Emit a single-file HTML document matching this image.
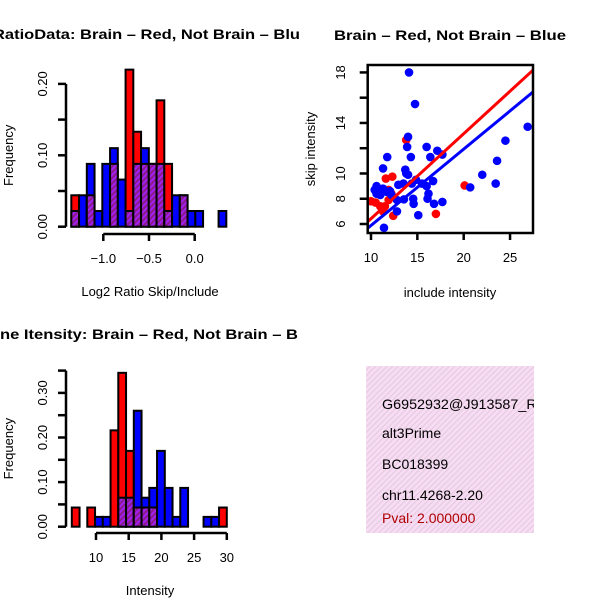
<!DOCTYPE html>
<html><head><meta charset="utf-8"><style>
html,body{margin:0;padding:0;background:#fff;}
svg{display:block;font-family:"Liberation Sans",sans-serif;}
.t{font-size:13px;}
.b{font-size:14px;}
.ttl{font-size:14px;font-weight:bold;}
</style></head><body>
<svg id="s" width="600" height="600" viewBox="0 0 600 600">
<defs>
<pattern id="hatch" width="4" height="4" patternUnits="userSpaceOnUse" patternTransform="rotate(45)">
<rect width="4" height="4" fill="#a020f0"/><rect width="2" height="4" fill="#8b1a8b"/>
</pattern>
<pattern id="pink" width="4" height="4" patternUnits="userSpaceOnUse" patternTransform="rotate(45)">
<rect width="4" height="4" fill="#f8dcf4"/><rect width="1.2" height="4" fill="#e4cce0"/>
</pattern>
<clipPath id="c1"><rect x="0" y="0" width="300" height="300"/></clipPath>
<clipPath id="c3"><rect x="0" y="300" width="300" height="300"/></clipPath>
<clipPath id="c2"><rect x="368" y="65" width="165" height="168"/></clipPath>
<clipPath id="cb"><rect x="366" y="366" width="168" height="167"/></clipPath>
</defs>
<g id="p1" clip-path="url(#c1)"></g>
<g id="p3" clip-path="url(#c3)"></g>
<g id="p2"></g>
<g clip-path="url(#cb)">
<rect x="366" y="366" width="168" height="167" fill="url(#pink)"/>
<text class="b" x="382" y="409" textLength="165" lengthAdjust="spacingAndGlyphs">G6952932@J913587_RC</text>
<text class="b" x="382" y="438">alt3Prime</text>
<text class="b" x="382" y="469">BC018399</text>
<text class="b" x="382" y="500">chr11.4268-2.20</text>
<text class="b" x="382" y="523" fill="#b00000">Pval: 2.000000</text>
</g>
</svg>
<script>
// ---- Ratio histogram data ----
const ratioStart = -1.35, ratioBin = 0.0848;
const ratioRed  = [0.044,0,0.044,0,0,0.088,0,0.22,0.133,0.088,0.088,0.177,0.088,0,0.044,0,0,0,0,0];
const ratioBlue = [0.022,0.044,0.088,0.022,0.088,0.11,0.066,0.022,0.088,0.11,0.088,0.088,0.022,0.044,0.044,0.022,0.022,0,0,0.022];
const ratioXTicks = [-1.0,-0.5,0.0];
const ratioXLabels = ["\u22121.0","\u22120.5","0.0"];
const ratioYTicks = [0,0.05,0.10,0.15,0.20];
const ratioYLabels = ["0.00","","0.10","","0.20"];
// ---- Intensity histogram data ----
const intStart = 6.3, intBin = 1.185;
const intRed  = [0.043,0,0.043,0,0,0.216,0.345,0.17,0.043,0.043,0.043,0,0,0,0,0,0,0,0,0.043];
const intBlue = [0,0,0,0.022,0.022,0,0.065,0.065,0.26,0.065,0.087,0.17,0.087,0.022,0.087,0,0,0.022,0.022,0];
const intXTicks = [10,15,20,25,30];
const intXLabels = ["10","15","20","25","30"];
const intYTicks = [0,0.05,0.10,0.15,0.20,0.25,0.30,0.35];
const intYLabels = ["0.00","","0.10","","0.20","","0.30",""];
// ---- Scatter data ----
const redX = [13.8,11.6,12.3,10.0,10.5,11.5,12.4,11.9,11.3,20.1,17.0,12.2,11.0,11.9];
const redY = [12.65,9.6,9.75,7.8,7.7,7.4,6.65,7.9,7.0,9.05,6.8,8.4,7.4,8.7];
const blueX = [14.1,14.75,14.0,13.9,16.0,17.15,17.7,16.4,14.3,11.75,11.3,13.7,14.0,14.85,16.7,15.5,16.0,16.2,16.1,10.6,10.4,11.0,12.05,12.95,13.5,14.55,14.6,16.8,17.7,13.55,12.8,15.1,11.4,12.8,12.2,11.7,20.7,22.0,23.45,23.6,24.5,26.9,14.4,13.8,10.6,11.3];
const blueY = [18.0,15.5,12.9,12.1,12.1,11.8,11.5,11.3,11.3,11.3,10.4,10.3,9.9,9.5,9.4,9.2,9.0,8.4,8.0,9.0,8.7,8.3,8.6,9.1,9.2,8.0,7.6,7.6,7.75,7.95,7.0,6.7,5.7,7.9,8.3,8.55,8.9,9.9,9.2,11.0,12.6,13.7,9.2,10.0,8.4,8.8];
const redFit = [-0.31,0.673];   // intercept, slope
const blueFit = [-0.17,0.605];
const scXTicks = [10,15,20,25];
const scYTicks = [6,8,10,12,14,16,18];
const scYLabels = ["6","8","10","","14","","18"];

const NS="http://www.w3.org/2000/svg";
function mk(parent,tag,attrs,txt){const e=document.createElementNS(NS,tag);for(const k in attrs)e.setAttribute(k,attrs[k]);if(txt!==undefined)e.textContent=txt;parent.appendChild(e);return e;}

function hist(gid,start,bin,red,blue,xs,ys,xT,xL,yT,yL,yAxisX,base,xAxY,title,titleX,titleLen,titleY,xlab){
  const g=document.getElementById(gid);
  const X=v=>xs(v), Y=v=>ys(v);
  const tt=mk(g,'text',{class:'ttl',x:titleX,y:titleY,textLength:titleLen,lengthAdjust:'spacingAndGlyphs'},title);
  
  
  for(let i=0;i<red.length;i++){
    const x0=X(start+i*bin), x1=X(start+(i+1)*bin);
    const r=red[i], b=blue[i];
    if(r===0&&b===0) continue;
    const hi=Math.max(r,b), lo=Math.min(r,b);
    const top=mk(g,'rect',{x:x0,y:Y(hi),width:x1-x0,height:Y(0)-Y(hi),fill:r>=b?'#ff0000':'#0000ff',stroke:'#000','stroke-width':2});
    
    
    if(lo>0){
      const ov=mk(g,'rect',{x:x0,y:Y(lo),width:x1-x0,height:Y(0)-Y(lo),fill:'url(#hatch)',stroke:'#000','stroke-width':2});
      
      
    }
  }
  const xa=mk(g,'g',{});
  
  
  mk(xa,'line',{x1:X(xT[0]),x2:X(xT[xT.length-1]),y1:xAxY,y2:xAxY,stroke:'#000','stroke-width':2.5});
  xT.forEach((v,i)=>{mk(xa,'line',{x1:X(v),x2:X(v),y1:xAxY,y2:xAxY+7,stroke:'#000','stroke-width':2.5});
    mk(xa,'text',{class:'t',x:X(v),y:xAxY+29,'text-anchor':'middle'},xL[i]);});
  const xl=mk(g,'text',{class:'t',x:150,y:xAxY+62,'text-anchor':'middle'},xlab);
  
  
  const ya=mk(g,'g',{});
  
  
  mk(ya,'line',{x1:yAxisX,x2:yAxisX,y1:Y(yT[0]),y2:Y(yT[yT.length-1]),stroke:'#000','stroke-width':2.5});
  yT.forEach((v,i)=>{mk(ya,'line',{x1:yAxisX-8,x2:yAxisX,y1:Y(v),y2:Y(v),stroke:'#000','stroke-width':2.5});
    if(yL[i]) mk(ya,'text',{class:'t',x:0,y:0,'text-anchor':'middle',transform:`translate(${yAxisX-19},${Y(v)}) rotate(-90)`},yL[i]);});
  const yl=mk(g,'text',{class:'t','text-anchor':'middle',transform:`translate(13,${(Y(yT[0])+Y(yT[yT.length-1]))/2}) rotate(-90)`},'Frequency');
  
  
}

hist('p1',ratioStart,ratioBin,ratioRed,ratioBlue,
  v=>194.7+v*91.4, v=>226.7-v*714,
  ratioXTicks,ratioXLabels,ratioYTicks,ratioYLabels,66,226.7,234,
  'RatioData: Brain \u2013 Red, Not Brain \u2013 Blu',-7,307,39,'Log2 Ratio Skip/Include');
hist('p3',intStart,intBin,intRed,intBlue,
  v=>96+(v-10)*6.54, v=>526.7-v*446,
  intXTicks,intXLabels,intYTicks,intYLabels,66,526.7,533,
  'ne Itensity: Brain \u2013 Red, Not Brain \u2013 B',0,298,339,'Intensity');

(function(){
  const g=document.getElementById('p2');
  const X=v=>371+(v-10)*9.27, Y=v=>224-(v-6)*12.63;
  const L=367.7,R=533,T=65,B=233;
  const tt=mk(g,'text',{class:'ttl',x:334,y:40,textLength:232,lengthAdjust:'spacingAndGlyphs'},'Brain \u2013 Red, Not Brain \u2013 Blue');
  
  
  const pts=mk(g,'g',{'clip-path':'url(#c2)'});
  redX.forEach((x,i)=>{const c=mk(pts,'circle',{cx:X(x),cy:Y(redY[i]),r:4.3,fill:'#ff0000'});
    
    });
  blueX.forEach((x,i)=>{const c=mk(pts,'circle',{cx:X(x),cy:Y(blueY[i]),r:4.3,fill:'#0000ff'});
    
    });
  const x0=9.64,x1=27.5;
  const rl=mk(pts,'line',{x1:X(x0),y1:Y(redFit[0]+redFit[1]*x0),x2:X(x1),y2:Y(redFit[0]+redFit[1]*x1),stroke:'#ff0000','stroke-width':3});
  
  
  const bl=mk(pts,'line',{x1:X(x0),y1:Y(blueFit[0]+blueFit[1]*x0),x2:X(x1),y2:Y(blueFit[0]+blueFit[1]*x1),stroke:'#0000ff','stroke-width':3});
  
  
  const fr=mk(g,'rect',{x:L,y:T,width:R-L,height:B-T,fill:'none',stroke:'#000','stroke-width':2.5});
  
  
  const xa=mk(g,'g',{});
  
  
  scXTicks.forEach(v=>{mk(xa,'line',{x1:X(v),x2:X(v),y1:B,y2:B+7,stroke:'#000','stroke-width':2.5});
    mk(xa,'text',{class:'t',x:X(v),y:B+29,'text-anchor':'middle'},String(v));});
  const ya=mk(g,'g',{});
  
  
  scYTicks.forEach((v,i)=>{mk(ya,'line',{x1:L-8,x2:L,y1:Y(v),y2:Y(v),stroke:'#000','stroke-width':2.5});
    if(scYLabels[i]) mk(ya,'text',{class:'t','text-anchor':'middle',transform:`translate(345,${Y(v)}) rotate(-90)`},scYLabels[i]);});
  const xl=mk(g,'text',{class:'t',x:450,y:297,'text-anchor':'middle'},'include intensity');
  
  
  const yl=mk(g,'text',{class:'t','text-anchor':'middle',transform:'translate(315,149) rotate(-90)'},'skip intensity');
  
  
})();
</script>
</body></html>
